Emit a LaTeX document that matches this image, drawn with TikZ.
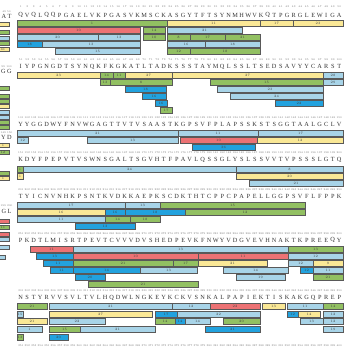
\documentclass[tikz,border=0pt]{standalone}
\usepackage{fontspec}
\usepackage{tikz}
\newfontfamily\resfont{Liberation Serif}
\definecolor{pepgreen}{RGB}{146,192,98}
\definecolor{pepyellow}{RGB}{250,232,150}
\definecolor{pepred}{RGB}{236,114,116}
\definecolor{peplblue}{RGB}{168,212,232}
\definecolor{pepblue}{RGB}{34,162,222}
\newcount\rescount
% one line of 50 residues with their numbers above
\newcommand{\seqrow}[4]{\rescount=0 \def\rownum{#1}\def\rowres{#2}\def\rowfirst{#3}\seqnext#4\relax}
\newcommand{\seqnext}[1]{%
  \ifx#1\relax\else
    \node[resnum] at (20.75+6.5*\the\rescount,\rownum) {\the\numexpr\rowfirst+\rescount\relax};
    \node[residue] at (20.75+6.5*\the\rescount,\rowres) {#1};
    \advance\rescount by 1
    \expandafter\seqnext
  \fi}
% peptide bar: [height]{x1}{x2}{top}{colour}{label}
\newcommand{\seqbar}[6][6]{%
  \draw[pepbar, fill=#5] (#2,#4) rectangle (#3,#4+#1);
  \node[peplabel] at ({(#2+#3)/2},{#4+#1/2}) {#6};}

\begin{document}
\begin{tikzpicture}[
    x=1pt, y=-1pt,
    pepbar/.style={draw=black!65, line width=0.6pt},
    peplabel/.style={font=\fontsize{3.4}{3.4}\selectfont, text=black!75, inner sep=0pt},
    residue/.style={font=\resfont\fontsize{6.3}{6.3}\selectfont, text=black!80, inner sep=0pt},
    resnum/.style={font=\fontsize{2.6}{2.6}\selectfont, text=black!55, inner sep=0pt}
]
\useasboundingbox (0,0) rectangle (345,347);
\clip (0,0) rectangle (345,347);

% Neighbouring panel (cut at the left edge)
\node[resnum] at (6.5,12) {49\enspace 50};
\node[residue] at (6.5,16) {A\kern1.5pt T};
\seqbar[4]{-3}{9}{22.5}{pepyellow}{}
\seqbar[4]{-3}{9}{30}{pepgreen}{}
\seqbar[4]{-3}{9}{36}{peplblue}{}
\seqbar[4]{-3}{9}{41.5}{pepgreen}{}
\seqbar[4]{-3}{9}{47}{pepyellow}{41}
\node[resnum] at (6.5,67) {99\enspace 100};
\node[residue] at (6.5,71) {G\kern1.5pt G};
\seqbar[4]{-3}{9}{86}{pepgreen}{}
\seqbar[4]{-3}{9}{94.5}{pepgreen}{}
\seqbar[4]{-3}{9}{99.5}{pepgreen}{}
\seqbar[4]{-3}{9}{104.5}{pepyellow}{}
\seqbar[4]{-3}{9}{110}{peplblue}{}
\seqbar[4]{-3}{9}{115}{peplblue}{}
\seqbar[4]{-3}{9}{120}{pepgreen}{}
\seqbar[4]{-3}{9}{125.5}{pepgreen}{}
\node[resnum] at (6.5,133) {149\enspace 150};
\node[residue] at (6.5,137.5) {Y\kern1.5pt D};
\seqbar[4]{-3}{9}{143.5}{pepyellow}{1}
\seqbar[4]{-3}{9}{150}{pepgreen}{12}
\seqbar[4]{-3}{9}{171.5}{pepgreen}{}
\seqbar[4]{-3}{9}{176}{pepyellow}{1}
\node[resnum] at (6.5,206) {199\enspace 200};
\node[residue] at (6.5,211) {G\kern1.5pt L};
\seqbar[4]{-3}{9}{219}{pepred}{}
\seqbar[4]{-3}{9}{225.5}{pepgreen}{11}
\seqbar[4]{-3}{9}{232}{pepred}{}
\seqbar[4]{-3}{9}{237.5}{peplblue}{}
\seqbar[4]{-3}{9}{245}{peplblue}{}
\seqbar[4]{-3}{5}{255.5}{peplblue}{}

% Block 1: residues 1-50
\seqrow{7}{15}{1}{QVQLQQPGAELVKPGASVKMSCKASGYTFTSYNMHWVKQTPGRGLEWIGA}
\seqbar{17}{167}{20}{pepgreen}{1}
\seqbar{167}{260}{20}{pepyellow}{11}
\seqbar{260}{293}{20}{pepyellow}{17}
\seqbar{293}{343}{20}{pepyellow}{23}
\seqbar{17}{140}{27}{pepred}{10}
\seqbar{143}{165}{27}{pepgreen}{14}
\seqbar{167}{242}{27}{peplblue}{21}
\seqbar{17}{98}{34}{peplblue}{20}
\seqbar{98}{140}{34}{peplblue}{13}
\seqbar{143}{165}{34}{pepgreen}{10}
\seqbar{167}{190}{34}{pepgreen}{8}
\seqbar{190}{225}{34}{pepgreen}{17}
\seqbar{225}{260}{34}{pepgreen}{21}
\seqbar{17}{42}{41}{pepblue}{18}
\seqbar{42}{140}{41}{peplblue}{13}
\seqbar{167}{205}{41}{peplblue}{16}
\seqbar{205}{260}{41}{peplblue}{18}
\seqbar{55}{140}{48}{peplblue}{15}
\seqbar{167}{190}{48}{pepgreen}{12}
\seqbar{190}{260}{48}{pepgreen}{18}

% Block 2: residues 51-100
\seqrow{60}{66.5}{51}{IYPGNGDTSYNQKFKGKATLTADKSSSTAYMQLSSLTSEDSAVYYCARST}
\seqbar{17}{100}{72}{pepyellow}{23}
\seqbar{100}{113}{72}{pepgreen}{14}
\seqbar{113}{125}{72}{pepgreen}{11}
\seqbar{125}{172}{72}{pepyellow}{27}
\seqbar{172}{323}{72}{pepyellow}{27}
\seqbar{323}{343}{72}{peplblue}{28}
\seqbar{100}{110}{79}{pepgreen}{13}
\seqbar{110}{172}{79}{pepgreen}{8}
\seqbar{210}{323}{79}{pepgreen}{15}
\seqbar{323}{343}{79}{peplblue}{29}
\seqbar{125}{166}{86}{pepblue}{18}
\seqbar{217}{323}{86}{peplblue}{23}
\seqbar{142}{166}{93}{pepblue}{16}
\seqbar{230}{323}{93}{peplblue}{24}
\seqbar{155}{167}{100}{pepblue}{16}
\seqbar{275}{323}{100}{pepblue}{22}
\seqbar{160}{172}{107}{pepgreen}{17}

% Block 3: residues 101-150
\seqrow{118}{124.5}{101}{YYGGDWYFNVWGAGTTVTVSAASTKGPSVFPLAPSSKSTSGGTAALGCLV}
\seqbar{17}{178}{130}{peplblue}{21}
\seqbar{178}{258}{130}{peplblue}{11}
\seqbar{258}{343}{130}{peplblue}{17}
\seqbar{17}{28}{137}{peplblue}{12}
\seqbar{87}{178}{137}{peplblue}{13}
\seqbar{180}{257}{137}{pepred}{10}
\seqbar{257}{343}{137}{pepyellow}{12}
\seqbar{192}{255}{144}{pepblue}{36}

% Block 4: residues 151-200
\seqrow{153}{159.5}{151}{KDYFPEPVTVSWNSGALTSGVHTFPAVLQSSGLYSLSSVVTVPSSSLGTQ}
\seqbar{17}{23}{166}{pepgreen}{1}
\seqbar{23}{236}{166}{peplblue}{24}
\seqbar{236}{343}{166}{peplblue}{8}
\seqbar{17}{23}{173}{pepyellow}{1}
\seqbar{236}{343}{173}{pepyellow}{20}
\seqbar{249}{343}{180}{peplblue}{21}

% Block 5: residues 201-250
\seqrow{190}{196.5}{201}{TYICNVNHKPSNTKVDKKAEPKSCDKTHTCPPCPAPELLGGPSVFLFPPK}
\seqbar{17}{125}{202}{peplblue}{17}
\seqbar{125}{160}{202}{peplblue}{13}
\seqbar{160}{305}{202}{pepgreen}{15}
\seqbar{17}{105}{209}{pepyellow}{16}
\seqbar{105}{125}{209}{pepblue}{16}
\seqbar{125}{185}{209}{pepblue}{18}
\seqbar{185}{305}{209}{pepgreen}{12}
\seqbar{17}{105}{216}{peplblue}{11}
\seqbar{105}{130}{216}{pepgreen}{14}
\seqbar{130}{160}{216}{pepgreen}{18}
\seqbar{75}{135}{223}{pepblue}{13}

% Block 6: residues 251-300
\seqrow{234}{240}{251}{PKDTLMISRTPEVTCVVVDVSHEDPEVKFNWYVDGVEVHNAKTKPREEQY}
\seqbar{30}{73}{246}{pepred}{11}
\seqbar{73}{288}{246}{peplblue}{13}
\seqbar{288}{343}{246}{pepgreen}{13}
\seqbar{36}{73}{253}{pepblue}{13}
\seqbar{73}{198}{253}{pepred}{10}
\seqbar{198}{288}{253}{pepred}{11}
\seqbar{288}{343}{253}{peplblue}{12}
\seqbar{43}{73}{260}{pepblue}{11}
\seqbar{73}{173}{260}{pepgreen}{21}
\seqbar{173}{198}{260}{pepgreen}{17}
\seqbar{198}{267}{260}{pepyellow}{21}
\seqbar{288}{313}{260}{peplblue}{12}
\seqbar{313}{343}{260}{pepyellow}{9}
\seqbar{50}{73}{267}{pepblue}{11}
\seqbar{73}{140}{267}{pepblue}{14}
\seqbar{140}{197}{267}{peplblue}{13}
\seqbar{223}{288}{267}{peplblue}{14}
\seqbar{300}{313}{267}{pepblue}{12}
\seqbar{313}{343}{267}{peplblue}{11}
\seqbar{75}{105}{274}{pepblue}{20}
\seqbar{236}{285}{274}{peplblue}{19}
\seqbar{313}{343}{274}{pepgreen}{21}
\seqbar{88}{198}{281}{pepgreen}{21}

% Block 7: residues 301-350
\seqrow{291}{297.5}{301}{NSTYRVVSVLTVLHQDWLNGKEYKCKVSNKALPAPIEKTISKAKGQPREP}
\seqbar{17}{47}{303}{pepgreen}{21}
\seqbar{49}{172}{303}{peplblue}{21}
\seqbar{172}{210}{303}{peplblue}{12}
\seqbar{210}{260}{303}{pepred}{22}
\seqbar{262}{285}{303}{pepyellow}{13}
\seqbar{287}{323}{303}{peplblue}{11}
\seqbar{323}{343}{303}{pepgreen}{14}
\seqbar{17}{23}{311}{peplblue}{15}
\seqbar{49}{152}{311}{pepyellow}{27}
\seqbar{155}{177}{311}{pepblue}{17}
\seqbar{177}{260}{311}{peplblue}{22}
\seqbar{287}{298}{311}{pepblue}{12}
\seqbar{298}{320}{311}{pepyellow}{14}
\seqbar{323}{343}{311}{peplblue}{12}
\seqbar{17}{47}{318.5}{pepyellow}{21}
\seqbar{49}{105}{318.5}{peplblue}{22}
\seqbar{155}{175}{318.5}{pepgreen}{14}
\seqbar{175}{185}{318.5}{pepblue}{14}
\seqbar{185}{210}{318.5}{peplblue}{14}
\seqbar{223}{260}{318.5}{pepgreen}{20}
\seqbar{300}{323}{318.5}{peplblue}{13}
\seqbar{323}{343}{318.5}{peplblue}{12}
\seqbar{17}{42}{326}{peplblue}{1}
\seqbar{49}{80}{326}{pepgreen}{15}
\seqbar{80}{155}{326}{peplblue}{21}
\seqbar{205}{260}{326}{pepblue}{21}
\seqbar{323}{343}{326}{peplblue}{19}
\seqbar{17}{23}{334}{pepgreen}{13}
\seqbar{49}{68}{334}{pepblue}{20}

% Block 8: only the numbers show
\foreach \i in {0,...,49}
  \node[resnum] at (20.75+6.5*\i,346) {\the\numexpr351+\i\relax};

\end{tikzpicture}
\end{document}
